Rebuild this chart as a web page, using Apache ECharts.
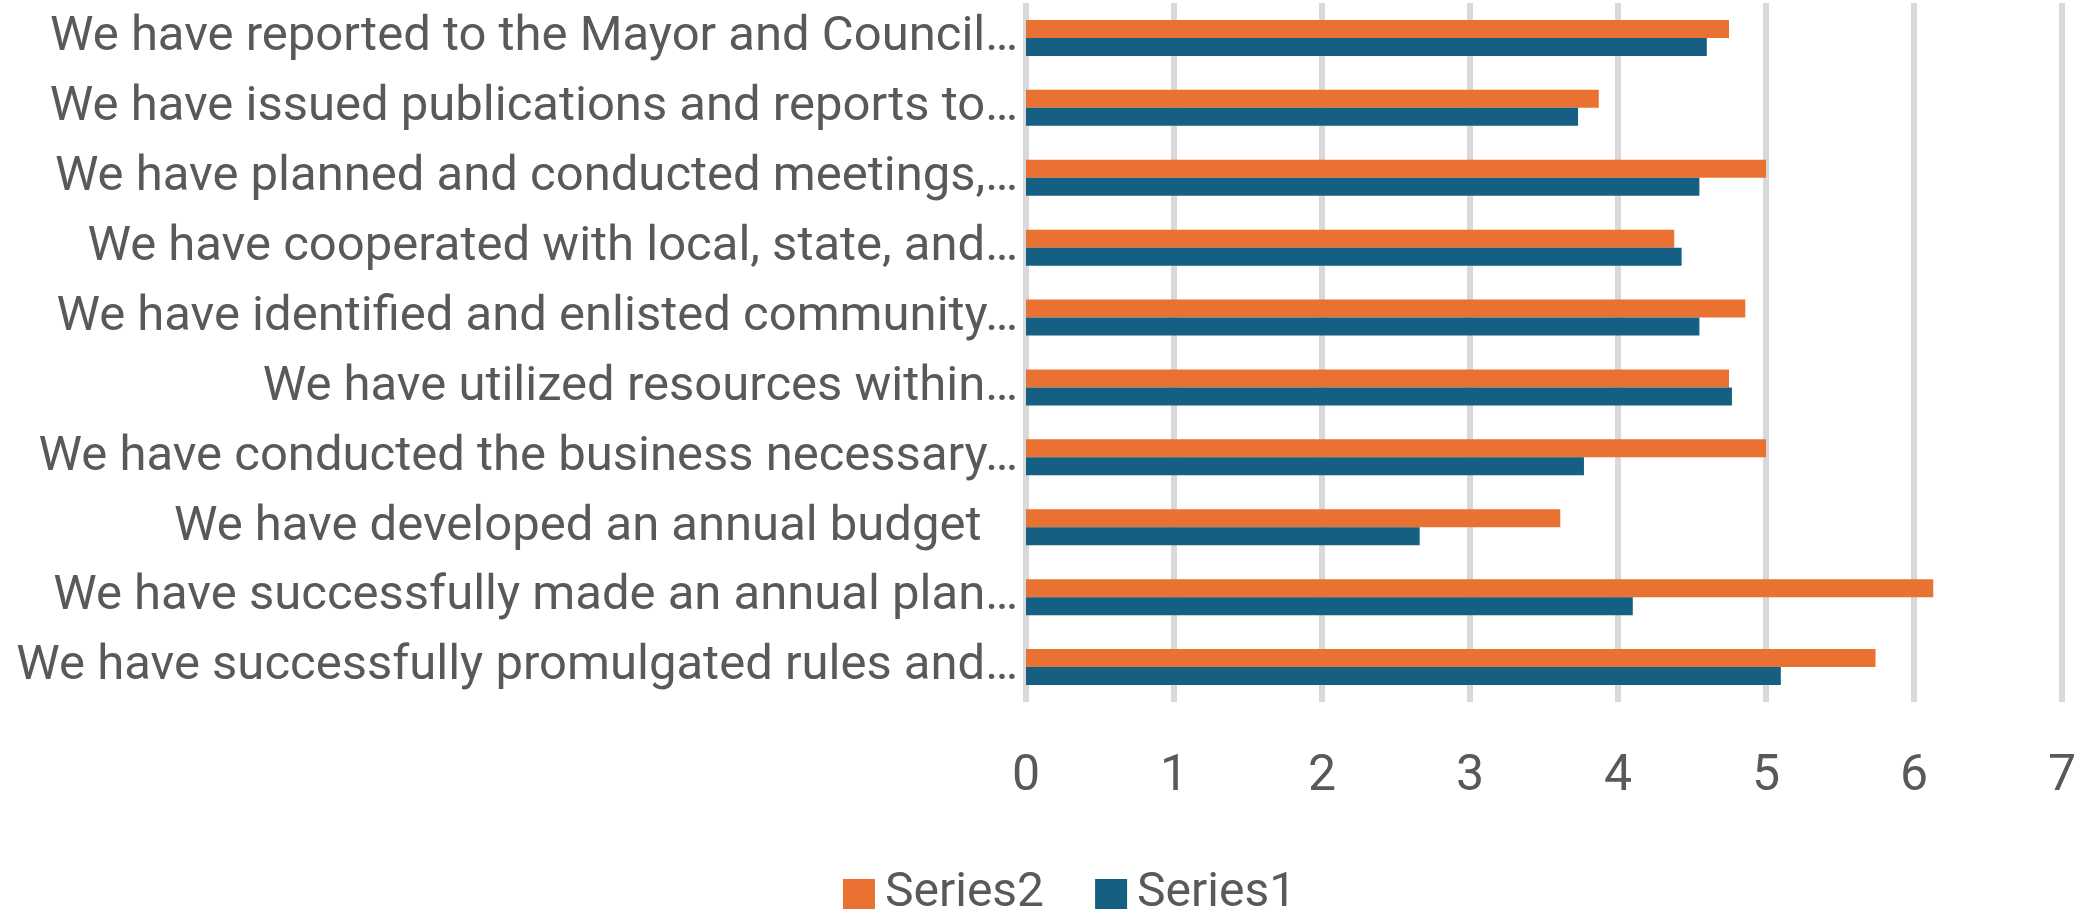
<!DOCTYPE html>
<html>
<head>
<meta charset="utf-8">
<title>Bar chart</title>
<script src="https://cdn.jsdelivr.net/npm/echarts@6/dist/echarts.min.js"></script>
<style>
  html, body { margin: 0; padding: 0; background: #fff; }
  #chart { width: 2091px; height: 910px; }
</style>
</head>
<body>
<div id="chart"></div>
<script>
// categories, top to bottom
const categories = [
  'We have reported to the Mayor and Council…',
  'We have issued publications and reports to…',
  'We have planned and conducted meetings,…',
  'We have cooperated with local, state, and…',
  'We have identified and enlisted community…',
  'We have utilized resources within…',
  'We have conducted the business necessary…',
  'We have developed an annual budget   ',
  'We have successfully made an annual plan…',
  'We have successfully promulgated rules and…'
]
const series2 = [4.75, 3.87, 5.0, 4.38, 4.86, 4.75, 5.0, 3.61, 6.13, 5.74]
const series1 = [4.6, 3.73, 4.55, 4.43, 4.55, 4.77, 3.77, 2.66, 4.1, 5.1]
const xTicks = [0, 1, 2, 3, 4, 5, 6, 7]

const textColor = '#595959'
const font = 'Roboto'

const chart = echarts.init(document.getElementById('chart'))

chart.setOption({
  animation: false,
  textStyle: { fontFamily: font },
  legend: {
    data: ['Series2', 'Series1'],
    left: 838,
    top: 865,
    itemWidth: 32,
    itemHeight: 30,
    itemGap: 51,
    icon: 'rect',
    textStyle: { color: textColor, fontSize: 48, fontFamily: font, padding: [0, 0, 0, 5] }
  },
  grid: {
    left: 1026,
    right: 29,
    top: 3,
    bottom: 208,
    containLabel: false
  },
  xAxis: {
    type: 'value',
    min: xTicks[0],
    max: xTicks[xTicks.length - 1],
    interval: 1,
    axisLine: { show: false },
    axisTick: { show: false },
    axisLabel: { color: textColor, fontSize: 50, margin: 50, fontFamily: font },
    splitLine: { lineStyle: { color: '#D9D9D9', width: 6 } }
  },
  yAxis: {
    type: 'category',
    data: categories,
    inverse: true,
    axisLine: { show: false },
    axisTick: { show: false },
    axisLabel: { color: textColor, fontSize: 49, margin: 8, fontFamily: font }
  },
  series: [
    {
      name: 'Series2',
      type: 'bar',
      data: series2,
      barWidth: 18,
      barGap: '0%',
      itemStyle: { color: '#E97132' }
    },
    {
      name: 'Series1',
      type: 'bar',
      data: series1,
      barWidth: 18,
      barGap: '0%',
      itemStyle: { color: '#156082' }
    }
  ]
})
</script>
</body>
</html>
